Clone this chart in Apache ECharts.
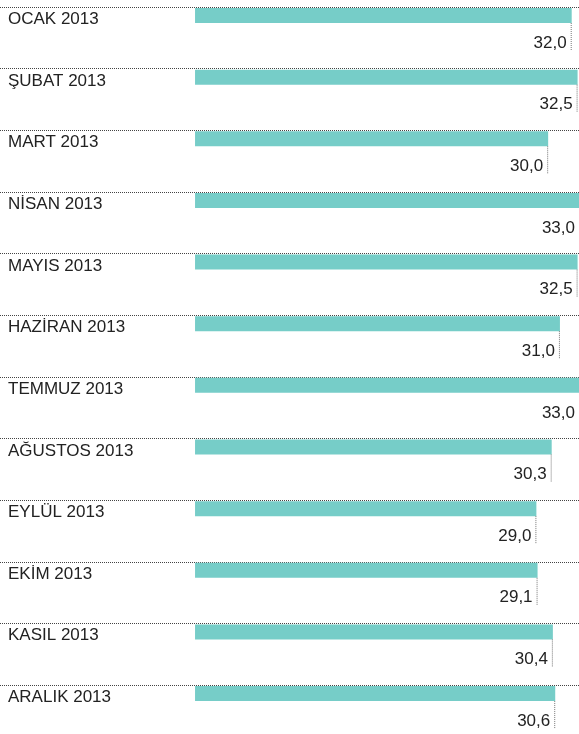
<!DOCTYPE html>
<html>
<head>
<meta charset="utf-8">
<script src="https://cdn.jsdelivr.net/npm/echarts@6/dist/echarts.min.js"></script>
<style>
  html, body { margin: 0; padding: 0; background: #fff; }
  #chart { width: 579px; height: 734px; }
</style>
</head>
<body>
<div id="chart"></div>
<script>
const months = ['OCAK 2013', 'ŞUBAT 2013', 'MART 2013', 'NİSAN 2013', 'MAYIS 2013', 'HAZİRAN 2013',
    'TEMMUZ 2013', 'AĞUSTOS 2013', 'EYLÜL 2013', 'EKİM 2013', 'KASIL 2013', 'ARALIK 2013'];
const values = [32.0, 32.5, 30.0, 33.0, 32.5, 31.0, 33.0, 30.3, 29.0, 29.1, 30.4, 30.6];

const W = 579;
const chart = echarts.init(document.getElementById('chart'));

chart.setOption({
    animation: false,
    backgroundColor: '#fff',
    grid: { left: 0, right: 0, top: 7, bottom: -12.7, outerBoundsMode: 'none', containLabel: false },
    xAxis: {
        type: 'value',
        min: -16.57,   // puts value 0 at ~195px
        max: 32.62,
        show: false
    },
    yAxis: {
        type: 'category',
        data: months,
        inverse: true,
        axisLine: { show: false },
        axisTick: { show: false },
        splitLine: { show: true, lineStyle: { color: '#444', type: [1, 1], width: 1 } },
        axisLabel: {
            inside: true,
            margin: 8,
            color: '#222',
            fontFamily: 'Liberation Sans',
            fontSize: 17,
            verticalAlign: 'bottom',
            lineHeight: 37   // lifts label to the top of its row
        }
    },
    series: [{
        type: 'custom',
        data: values.map((v, i) => [v, i]),
        encode: { x: 0, y: 1 },
        renderItem: (params, api) => {
            const v = api.value(0);
            const i = api.value(1);
            const end = api.coord([v, i]);
            const x0 = api.coord([0, i])[0];
            const band = api.size([0, 1])[1];
            const top = end[1] - band / 2 + 1;
            const x1 = end[0];
            const children = [{
                type: 'rect',
                shape: { x: x0, y: top, width: x1 - x0, height: 15 },
                style: { fill: '#76cdc8' }
            }];
            // small dotted tick under bar end (only when visible)
            if (x1 < W) {
                children.push({
                    type: 'line',
                    shape: { x1: x1 - 0.5, y1: top + 15, x2: x1 - 0.5, y2: top + 42 },
                    style: { stroke: '#777', lineWidth: 1, lineDash: [1, 1] }
                });
            }
            children.push({
                type: 'text',
                style: {
                    text: v.toFixed(1).replace('.', ','),
                    x: Math.min(x1 - 5, 575),
                    y: top + 35,
                    align: 'right',
                    verticalAlign: 'middle',
                    fill: '#222',
                    font: '17px "Liberation Sans"'
                }
            });
            return { type: 'group', children };
        }
    }]
});
</script>
</body>
</html>
